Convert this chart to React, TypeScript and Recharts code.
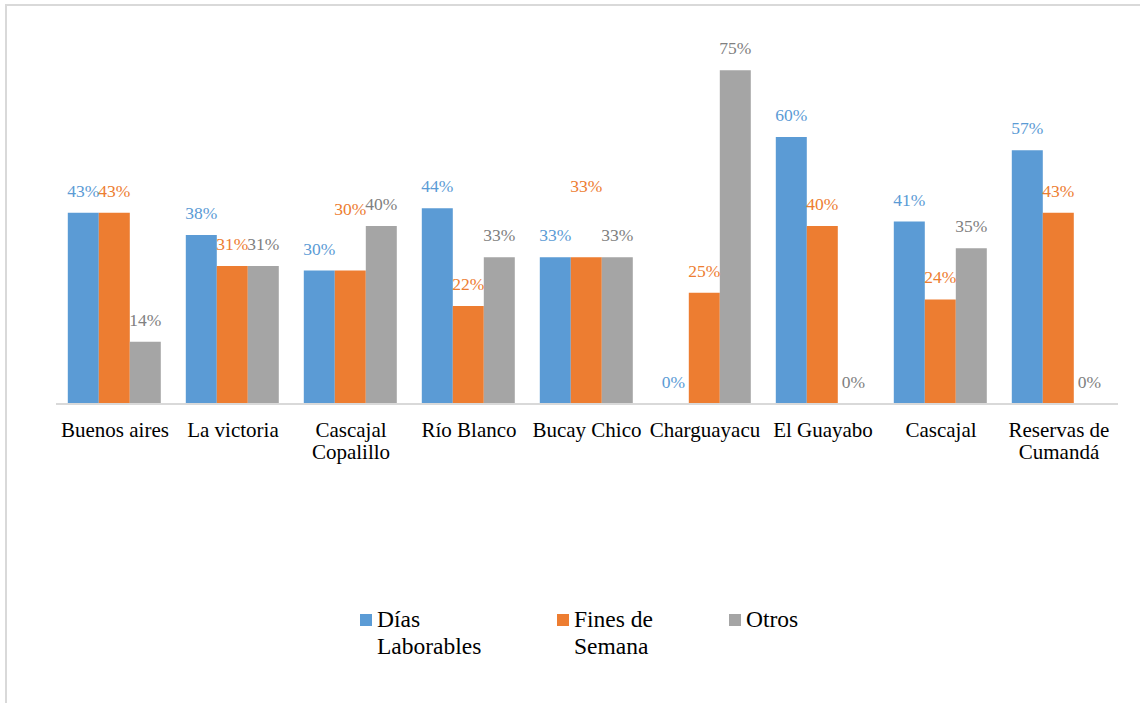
import { BarChart, Bar, XAxis, YAxis, LabelList, Text } from "recharts";

// ─── Datos ────────────────────────────────────────────────

const categories = [
  "Buenos aires",
  "La victoria",
  "Cascajal Copalillo",
  "Río Blanco",
  "Bucay Chico",
  "Charguayacu",
  "El Guayabo",
  "Cascajal",
  "Reservas de Cumandá",
];
const diasLaborables = [43, 38, 30, 44, 33, 0, 60, 41, 57];
const finesDeSemana = [43, 31, 30, 22, 33, 25, 40, 23.5, 43];
const otros = [14, 31, 40, 33, 33, 75, 0, 35, 0];

const seriesNames = ["Días Laborables", "Fines de Semana", "Otros"];
const COLORS = ["#5B9BD5", "#ED7D31", "#A5A5A5"];
const LABEL_COLORS = ["#5B9BD5", "#ED7D31", "#808080"];

const data = categories.map((name, i) => ({
  name,
  dias: diasLaborables[i],
  fines: finesDeSemana[i],
  otros: otros[i],
}));

const FONT = "Liberation Serif";

// etiquetas movidas a mano en el original
const LABEL_LIFT: Record<number, Record<number, number>> = {
  1: { 2: 40, 4: 49 },
};

function makeLabel(series: number) {
  return function BarLabel(props: any) {
    const { x, y, width, value, index } = props;
    const lift = LABEL_LIFT[series]?.[index] ?? 0;
    return (
      <text
        x={Number(x) + Number(width) / 2}
        y={Number(y) - 22 - lift}
        textAnchor="middle"
        dominantBaseline="central"
        fontFamily={FONT}
        fontSize={17.5}
        fill={LABEL_COLORS[series]}
      >
        {Math.round(Number(value))}%
      </text>
    );
  };
}

function CategoryTick(props: any) {
  const { x, y, payload } = props;
  return (
    <Text
      x={x}
      y={y + 18}
      width={117}
      textAnchor="middle"
      verticalAnchor="start"
      lineHeight={22}
      fontFamily={FONT}
      fontSize={21}
      fill="#000"
      style={{ fontFamily: FONT, fontSize: 21 }}
    >
      {payload.value}
    </Text>
  );
}

// ─── Leyenda ──────────────────────────────────────────────

const LEGEND_LEFT = [360, 557, 729];

function LegendBox() {
  return (
    <>
      {seriesNames.map((name, i) => (
        <div
          key={name}
          style={{
            position: "absolute",
            left: LEGEND_LEFT[i],
            top: 605.5,
            display: "flex",
            alignItems: "flex-start",
            fontFamily: FONT,
            fontSize: 23.5,
            lineHeight: "27px",
            color: "#000",
          }}
        >
          <span
            style={{
              width: 12,
              height: 12,
              background: COLORS[i],
              marginTop: 8.5,
              marginRight: 5,
              flex: "none",
            }}
          />
          <span style={{ width: 125 }}>{name}</span>
        </div>
      ))}
    </>
  );
}

export default function App() {
  return (
    <div style={{ position: "absolute", left: 0, top: 0, width: 1140, height: 703, background: "#fff" }}>
      <div
        style={{
          position: "absolute",
          left: 5,
          top: 4,
          width: 1140,
          height: 700,
          borderLeft: "2px solid #d9d9d9",
          borderTop: "2px solid #d9d9d9",
          pointerEvents: "none",
        }}
      />
      <BarChart
        width={1140}
        height={703}
        data={data}
        margin={{ top: 48, right: 22, left: 56, bottom: 239 }}
        barCategoryGap="10%"
        barGap={0}
      >
        <XAxis
          dataKey="name"
          height={60}
          interval={0}
          tickLine={false}
          tickSize={0}
          tickMargin={0}
          axisLine={{ stroke: "#d9d9d9", strokeWidth: 2 }}
          tick={<CategoryTick />}
        />
        <YAxis hide domain={[0, 80]} />
        <Bar dataKey="dias" fill={COLORS[0]} minPointSize={0.01} isAnimationActive={false}>
          <LabelList dataKey="dias" content={makeLabel(0)} />
        </Bar>
        <Bar dataKey="fines" fill={COLORS[1]} minPointSize={0.01} isAnimationActive={false}>
          <LabelList dataKey="fines" content={makeLabel(1)} />
        </Bar>
        <Bar dataKey="otros" fill={COLORS[2]} minPointSize={0.01} isAnimationActive={false}>
          <LabelList dataKey="otros" content={makeLabel(2)} />
        </Bar>
      </BarChart>
      <LegendBox />
    </div>
  );
}
